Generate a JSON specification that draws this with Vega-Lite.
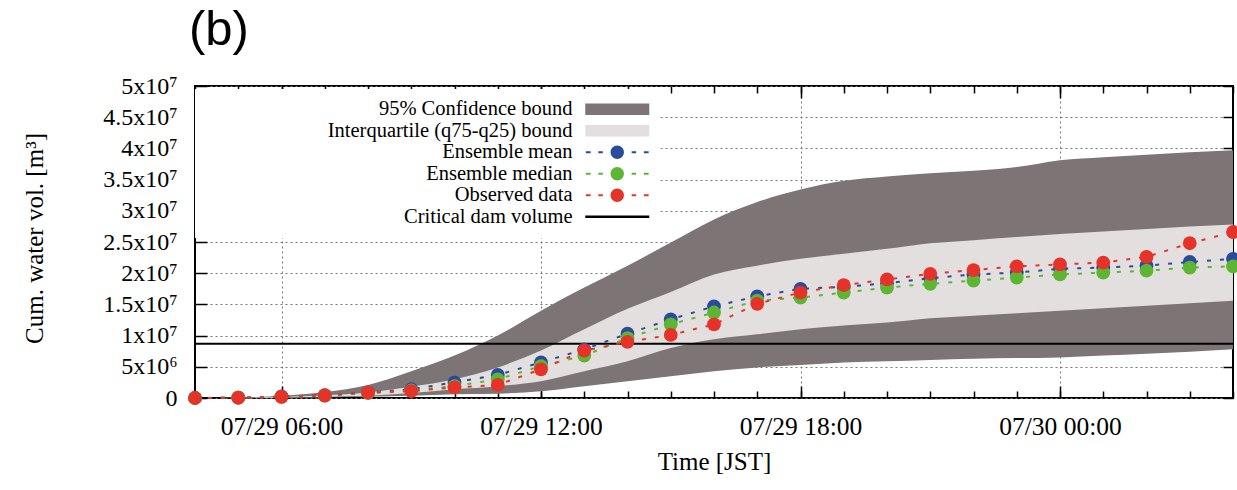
{
  "$schema": "https://vega.github.io/schema/vega-lite/v6.json",
  "width": 1038,
  "height": 312,
  "autosize": {"type": "none"},
  "padding": {"left": 195, "top": 86, "right": 4, "bottom": 92},
  "title": {"text": "(b)", "anchor": "start", "frame": "group", "font": "Liberation Sans", "fontSize": 49, "fontWeight": "normal", "color": "#000", "baseline": "alphabetic", "offset": 29, "dx": -6, "dy": 49},
  "config": {
    "view": {"stroke": "#000", "strokeWidth": 2},
    "axis": {"domain": false},
    "font": "Liberation Serif"
  },
  "datasets": {
    "d": [
      {"t": "2020-07-29T04:00", "lo95": 0, "q25": 0, "q75": 0, "hi95": 0, "Ensemble mean": 0, "Ensemble median": 0, "Observed data": 0},
      {"t": "2020-07-29T05:00", "lo95": 0, "q25": 20000, "q75": 50000, "hi95": 100000, "Ensemble mean": 50000, "Ensemble median": 40000, "Observed data": 50000},
      {"t": "2020-07-29T06:00", "lo95": 50000, "q25": 100000, "q75": 200000, "hi95": 350000, "Ensemble mean": 250000, "Ensemble median": 200000, "Observed data": 200000},
      {"t": "2020-07-29T07:00", "lo95": 100000, "q25": 200000, "q75": 450000, "hi95": 950000, "Ensemble mean": 450000, "Ensemble median": 400000, "Observed data": 400000},
      {"t": "2020-07-29T08:00", "lo95": 200000, "q25": 350000, "q75": 900000, "hi95": 2100000, "Ensemble mean": 900000, "Ensemble median": 800000, "Observed data": 850000},
      {"t": "2020-07-29T09:00", "lo95": 350000, "q25": 800000, "q75": 1800000, "hi95": 4300000, "Ensemble mean": 1400000, "Ensemble median": 1200000, "Observed data": 1100000},
      {"t": "2020-07-29T10:00", "lo95": 600000, "q25": 1400000, "q75": 3000000, "hi95": 6800000, "Ensemble mean": 2500000, "Ensemble median": 1900000, "Observed data": 1700000},
      {"t": "2020-07-29T11:00", "lo95": 700000, "q25": 1900000, "q75": 4900000, "hi95": 10000000, "Ensemble mean": 3700000, "Ensemble median": 3000000, "Observed data": 2100000},
      {"t": "2020-07-29T12:00", "lo95": 1100000, "q25": 2700000, "q75": 7600000, "hi95": 14000000, "Ensemble mean": 5700000, "Ensemble median": 5100000, "Observed data": 4600000},
      {"t": "2020-07-29T13:00", "lo95": 1900000, "q25": 4300000, "q75": 11000000, "hi95": 17700000, "Ensemble mean": 7800000, "Ensemble median": 6800000, "Observed data": 7600000},
      {"t": "2020-07-29T14:00", "lo95": 2700000, "q25": 5900000, "q75": 14300000, "hi95": 21200000, "Ensemble mean": 10300000, "Ensemble median": 9600000, "Observed data": 9000000},
      {"t": "2020-07-29T15:00", "lo95": 3500000, "q25": 8000000, "q75": 17000000, "hi95": 24900000, "Ensemble mean": 12600000, "Ensemble median": 11800000, "Observed data": 10100000},
      {"t": "2020-07-29T16:00", "lo95": 4300000, "q25": 9400000, "q75": 19800000, "hi95": 28600000, "Ensemble mean": 14700000, "Ensemble median": 13700000, "Observed data": 11800000},
      {"t": "2020-07-29T17:00", "lo95": 4900000, "q25": 10200000, "q75": 21200000, "hi95": 31400000, "Ensemble mean": 16300000, "Ensemble median": 15600000, "Observed data": 15100000},
      {"t": "2020-07-29T18:00", "lo95": 5300000, "q25": 11000000, "q75": 22300000, "hi95": 33400000, "Ensemble mean": 17500000, "Ensemble median": 16100000, "Observed data": 16900000},
      {"t": "2020-07-29T19:00", "lo95": 5700000, "q25": 11600000, "q75": 23100000, "hi95": 34800000, "Ensemble mean": 17800000, "Ensemble median": 16900000, "Observed data": 18100000},
      {"t": "2020-07-29T20:00", "lo95": 5900000, "q25": 12100000, "q75": 23900000, "hi95": 35500000, "Ensemble mean": 18400000, "Ensemble median": 17700000, "Observed data": 19000000},
      {"t": "2020-07-29T21:00", "lo95": 6100000, "q25": 12800000, "q75": 24800000, "hi95": 36000000, "Ensemble mean": 19200000, "Ensemble median": 18300000, "Observed data": 19900000},
      {"t": "2020-07-29T22:00", "lo95": 6300000, "q25": 13200000, "q75": 25300000, "hi95": 36400000, "Ensemble mean": 19800000, "Ensemble median": 18800000, "Observed data": 20500000},
      {"t": "2020-07-29T23:00", "lo95": 6400000, "q25": 13600000, "q75": 25800000, "hi95": 37000000, "Ensemble mean": 20100000, "Ensemble median": 19300000, "Observed data": 21100000},
      {"t": "2020-07-30T00:00", "lo95": 6500000, "q25": 14000000, "q75": 26300000, "hi95": 38100000, "Ensemble mean": 20700000, "Ensemble median": 19800000, "Observed data": 21400000},
      {"t": "2020-07-30T01:00", "lo95": 6800000, "q25": 14400000, "q75": 26700000, "hi95": 38600000, "Ensemble mean": 20900000, "Ensemble median": 20100000, "Observed data": 21700000},
      {"t": "2020-07-30T02:00", "lo95": 7100000, "q25": 14800000, "q75": 27100000, "hi95": 39000000, "Ensemble mean": 21200000, "Ensemble median": 20400000, "Observed data": 22600000},
      {"t": "2020-07-30T03:00", "lo95": 7400000, "q25": 15200000, "q75": 27500000, "hi95": 39400000, "Ensemble mean": 21800000, "Ensemble median": 20900000, "Observed data": 24800000},
      {"t": "2020-07-30T04:00", "lo95": 7800000, "q25": 15600000, "q75": 27800000, "hi95": 39700000, "Ensemble mean": 22300000, "Ensemble median": 21100000, "Observed data": 26600000}
    ],
    "crit": [{"crit": 8700000}],
    "keys": [
      {"series": "95% Confidence bound"},
      {"series": "Interquartile (q75-q25) bound"},
      {"series": "Ensemble mean"},
      {"series": "Ensemble median"},
      {"series": "Observed data"},
      {"series": "Critical dam volume"}
    ]
  },
  "data": {"name": "d"},
  "resolve": {"axis": {"x": "independent", "y": "independent"}},
  "layer": [
    {
      "mark": {"type": "area", "color": "#7c7475", "interpolate": "monotone"},
      "encoding": {
        "x": {
          "field": "t", "type": "temporal",
          "scale": {"domain": [{"year": 2020, "month": 7, "date": 29, "hours": 4}, {"year": 2020, "month": 7, "date": 30, "hours": 4}], "nice": false},
          "axis": {
            "orient": "bottom",
            "values": [{"year": 2020, "month": 7, "date": 29, "hours": 6}, {"year": 2020, "month": 7, "date": 29, "hours": 12}, {"year": 2020, "month": 7, "date": 29, "hours": 18}, {"year": 2020, "month": 7, "date": 30, "hours": 0}],
            "format": "%m/%d %H:%M",
            "labelOverlap": false, "labelFlush": false,
            "labelFont": "Liberation Serif", "labelFontSize": 25.5, "labelColor": "#000", "labelPadding": 28,
            "tickSize": -12,
            "tickColor": "#000", "tickWidth": 1.5,
            "grid": true, "gridDash": [2, 3], "gridColor": "#777", "gridWidth": 1,
            "title": "Time [JST]", "titleFont": "Liberation Serif", "titleFontSize": 25, "titleFontWeight": "normal", "titleColor": "#000",
            "titleX": 519, "titleY": 71, "titleBaseline": "alphabetic", "titleAlign": "center"
          }
        },
        "y": {
          "field": "lo95", "type": "quantitative",
          "scale": {"domain": [0, 50000000], "nice": false},
          "axis": {
            "orient": "left",
            "values": [0, 5000000, 10000000, 15000000, 20000000, 25000000, 30000000, 35000000, 40000000, 45000000, 50000000],
            "labelExpr": "datum.value == 0 ? '0' : datum.value < 10000000 ? format(datum.value / 1000000, '~g') + 'x10⁶' : format(datum.value / 10000000, '~g') + 'x10⁷'",
            "labelFont": "Liberation Serif", "labelFontSize": 24, "labelColor": "#000", "labelPadding": 30,
            "tickSize": -12, "tickColor": "#000", "tickWidth": 1.5,
            "grid": true, "gridDash": [2, 3], "gridColor": "#777", "gridWidth": 1,
            "title": "Cum. water vol. [m³]", "titleFont": "Liberation Serif", "titleFontSize": 25, "titleFontWeight": "normal", "titleColor": "#000",
            "titleX": -153, "titleY": 152, "titleAngle": 270, "titleBaseline": "alphabetic", "titleAlign": "center"
          }
        },
        "y2": {"field": "hi95"}
      }
    },
    {
      "mark": {"type": "area", "color": "#e3dfde", "interpolate": "monotone"},
      "encoding": {
        "x": {
          "field": "t", "type": "temporal",
          "axis": {
            "orient": "top",
            "tickCount": 24,
            "labels": false, "grid": false, "title": null,
            "tickSize": -7, "tickColor": "#000", "tickWidth": 1.5
          }
        },
        "y": {
          "field": "q25", "type": "quantitative",
          "axis": {
            "orient": "right",
            "values": [0, 5000000, 10000000, 15000000, 20000000, 25000000, 30000000, 35000000, 40000000, 45000000, 50000000],
            "labels": false, "grid": false, "title": null,
            "tickSize": -10, "tickColor": "#000", "tickWidth": 1.5
          }
        },
        "y2": {"field": "q75"}
      }
    },
    {
      "data": {"name": "crit"},
      "mark": {"type": "rule", "color": "#000", "strokeWidth": 2},
      "encoding": {
        "y": {"field": "crit", "type": "quantitative", "axis": null}
      }
    },
    {
      "transform": [{"fold": ["Ensemble mean", "Ensemble median", "Observed data"], "as": ["series", "v"]}],
      "mark": {"type": "line", "strokeWidth": 2, "strokeDash": [4, 9]},
      "encoding": {
        "x": {"field": "t", "type": "temporal",
          "axis": {"orient": "bottom", "tickCount": 24, "labels": false, "grid": false, "title": null, "tickSize": -7, "tickColor": "#000", "tickWidth": 1.5}},
        "y": {"field": "v", "type": "quantitative", "axis": null},
        "stroke": {"field": "series", "type": "nominal", "scale": {"domain": ["Ensemble mean", "Ensemble median", "Observed data"], "range": ["#2a4a9c", "#5db534", "#e6332a"]}, "legend": null}
      }
    },
    {
      "transform": [{"fold": ["Ensemble mean", "Ensemble median", "Observed data"], "as": ["series", "v"]}],
      "mark": {"type": "point", "shape": "circle", "filled": true, "size": 190, "opacity": 1, "strokeWidth": 0},
      "encoding": {
        "x": {"field": "t", "type": "temporal",
          "axis": {"orient": "top", "values": [{"year": 2020, "month": 7, "date": 29, "hours": 6}, {"year": 2020, "month": 7, "date": 29, "hours": 12}, {"year": 2020, "month": 7, "date": 29, "hours": 18}, {"year": 2020, "month": 7, "date": 30, "hours": 0}],
            "labels": false, "grid": false, "title": null, "tickSize": -12, "tickColor": "#000", "tickWidth": 1.5}},
        "y": {"field": "v", "type": "quantitative", "axis": null},
        "fill": {"field": "series", "type": "nominal", "scale": {"domain": ["Ensemble mean", "Ensemble median", "Observed data"], "range": ["#2a4a9c", "#5db534", "#e6332a"]}, "legend": null}
      }
    },
    {
      "data": {"name": "keys"},
      "transform": [{"filter": {"field": "series", "equal": "none"}}],
      "mark": {"type": "point", "filled": true, "opacity": 1},
      "encoding": {
        "color": {
          "field": "series", "type": "nominal",
          "scale": {"domain": ["95% Confidence bound", "Interquartile (q75-q25) bound", "Ensemble mean", "Ensemble median", "Observed data", "Critical dam volume"],
                    "range": ["#7c7475", "#e3dfde", "#2a4a9c", "#5db534", "#e6332a", "#000000"]},
          "legend": {
            "orient": "none", "legendX": 0, "legendY": 3, "direction": "vertical",
            "title": null, "padding": 10, "fillColor": "#ffffff",
            "symbolSize": 400, "symbolStrokeWidth": 0, "symbolOpacity": 1, "rowPadding": 0.5,
            "symbolOffset": 402, "labelOffset": -55, "labelAlign": "right",
            "labelFont": "Liberation Serif", "labelFontSize": 20.5, "labelColor": "#000", "labelLimit": 400
          }
        },
        "shape": {
          "field": "series", "type": "nominal",
          "scale": {"domain": ["95% Confidence bound", "Interquartile (q75-q25) bound", "Ensemble mean", "Ensemble median", "Observed data", "Critical dam volume"],
                    "range": [
                      "M-3.2,-0.57H3.2V0.57H-3.2Z",
                      "M-3.2,-0.57H3.2V0.57H-3.2Z",
                      "M-3.14,-0.1H-2.66V0.1H-3.14Z M-1.89,-0.1H-1.44V0.1H-1.89Z M1.44,-0.1H1.89V0.1H1.44Z M2.66,-0.1H3.14V0.1H2.66Z M-0.67,0A0.67,0.67 0 1,0 0.67,0A0.67,0.67 0 1,0 -0.67,0Z",
                      "M-3.14,-0.1H-2.66V0.1H-3.14Z M-1.89,-0.1H-1.44V0.1H-1.89Z M1.44,-0.1H1.89V0.1H1.44Z M2.66,-0.1H3.14V0.1H2.66Z M-0.67,0A0.67,0.67 0 1,0 0.67,0A0.67,0.67 0 1,0 -0.67,0Z",
                      "M-3.14,-0.1H-2.66V0.1H-3.14Z M-1.89,-0.1H-1.44V0.1H-1.89Z M1.44,-0.1H1.89V0.1H1.44Z M2.66,-0.1H3.14V0.1H2.66Z M-0.67,0A0.67,0.67 0 1,0 0.67,0A0.67,0.67 0 1,0 -0.67,0Z",
                      "M-3.2,-0.13H3.2V0.13H-3.2Z"
                    ]}
        }
      }
    }
  ]
}
